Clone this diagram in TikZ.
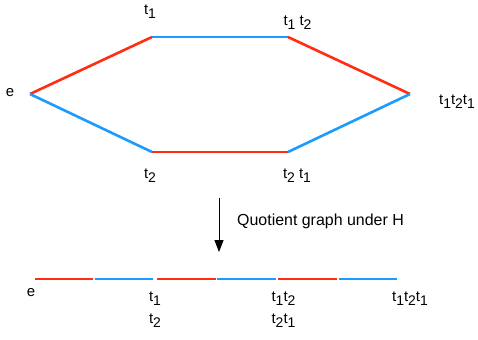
\documentclass[tikz,border=0pt]{standalone}
\usepackage{fontspec}
\setmainfont{Liberation Sans}
\usetikzlibrary{arrows.meta}
\definecolor{ered}{HTML}{FF2D12}
\definecolor{eblue}{HTML}{1C9BFF}
\newcommand{\ts}[1]{t\raisebox{-4bp}{\fontsize{14}{14}\selectfont #1}}
\begin{document}
\begin{tikzpicture}[x=1bp,y=-1bp,
  redge/.style={draw=ered,line width=2.6bp},
  bedge/.style={draw=eblue,line width=2.6bp},
  lbl/.style={inner sep=0pt,anchor=base,font=\fontsize{15}{15}\selectfont}]
\useasboundingbox (0,0) rectangle (478,339);
% hexagon vertices
\coordinate (e) at (30,94);
\coordinate (a) at (152,37);
\coordinate (ab) at (288,37);
\coordinate (aba) at (410,94);
\coordinate (b) at (152,152);
\coordinate (ba) at (288,152);
\draw[redge] (e) -- (a);
\draw[bedge] (a) -- (ab);
\draw[redge] (ab) -- (aba);
\draw[bedge] (e) -- (b);
\draw[redge] (b) -- (ba);
\draw[bedge] (ba) -- (aba);
% labels
\node[lbl] (le) at (10,96) {e};
\node[lbl] (la) at (150,14) {\ts{1}};
\node[lbl] (lab) at (297.5,25) {\ts{1} \ts{2}};
\node[lbl] (laba) at (457,104) {\ts{1}\ts{2}\ts{1}};
\node[lbl] (lb) at (150,178) {\ts{2}};
\node[lbl] (lba) at (297,178) {\ts{2} \ts{1}};
% arrow
\coordinate (p) at (219,198);
\coordinate (q) at (219,252);
\draw[line width=1bp,-{Triangle[length=12bp,width=9bp]}] (p) -- (q);
\node[lbl,anchor=base west,font=\fontsize{16}{16}\selectfont] (lq) at (237,225) {Quotient graph under H};
% quotient line
\coordinate (q0) at (35,279);
\coordinate (q1) at (93,279);
\coordinate (q2) at (95,279);
\coordinate (q3) at (153,279);
\coordinate (q4) at (157,279);
\coordinate (q5) at (216,279);
\coordinate (q6) at (217,279);
\coordinate (q7) at (276,279);
\coordinate (q8) at (278,279);
\coordinate (q9) at (337,279);
\coordinate (q10) at (339,279);
\coordinate (q11) at (397,279);
\draw[redge,line width=2.2bp] (q0) -- (q1);
\draw[bedge,line width=2.2bp] (q2) -- (q3);
\draw[redge,line width=2.2bp] (q4) -- (q5);
\draw[bedge,line width=2.2bp] (q6) -- (q7);
\draw[redge,line width=2.2bp] (q8) -- (q9);
\draw[bedge,line width=2.2bp] (q10) -- (q11);
\node[lbl] (qe) at (31,296) {e};
\node[lbl] (qa) at (155,301) {\ts{1}};
\node[lbl] (qb) at (155,323) {\ts{2}};
\node[lbl] (qab) at (283.5,301) {\ts{1}\ts{2}};
\node[lbl] (qba) at (283.5,323) {\ts{2}\ts{1}};
\node[lbl] (qaba) at (410,301) {\ts{1}\ts{2}\ts{1}};
\end{tikzpicture}
\end{document}
